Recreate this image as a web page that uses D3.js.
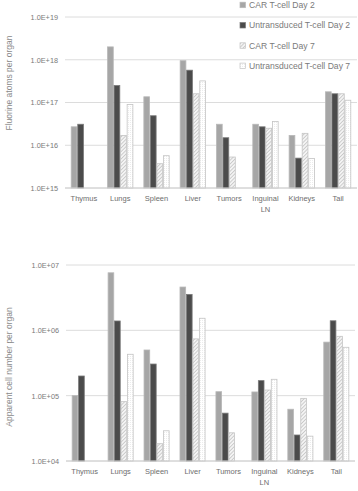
<!DOCTYPE html>
<html><head><meta charset="utf-8">
<script src="https://cdn.jsdelivr.net/npm/d3@7"></script>
<style>body{margin:0;background:#fff}svg{display:block}</style>
</head><body>
<svg id="c" width="358" height="491"></svg>
<script>
const categories = ["Thymus","Lungs","Spleen","Liver","Tumors","Inguinal LN","Kidneys","Tail"];
const seriesNames = ["CAR T-cell Day 2","Untransduced T-cell Day 2","CAR T-cell Day 7","Untransduced T-cell Day 7"];
// Fluorine atoms per organ
const fluorineCarD2   = [2.7e16, 2.0e18, 1.36e17, 9.5e17, 3.1e16, 3.1e16, 1.7e16, 1.78e17];
const fluorineUntrD2  = [3.1e16, 2.5e17, 4.9e16, 5.7e17, 1.5e16, 2.7e16, 5.0e15, 1.6e17];
const fluorineCarD7   = [null,   1.7e16, 3.7e15, 1.6e17, 5.3e15, 2.5e16, 1.9e16, 1.6e17];
const fluorineUntrD7  = [null,   9.0e16, 5.7e15, 3.2e17, null,   3.6e16, 4.9e15, 1.13e17];
const fluorineTicks = [1e15,1e16,1e17,1e18,1e19];
// Apparent cell number per organ
const cellsCarD2  = [1.0e5, 7.6e6, 5.0e5, 4.6e6, 1.15e5, 1.14e5, 6.2e4, 6.6e5];
const cellsUntrD2 = [2.0e5, 1.39e6, 3.05e5, 3.55e6, 5.4e4, 1.7e5, 2.5e4, 1.4e6];
const cellsCarD7  = [null,  8.1e4, 1.84e4, 7.4e5, 2.7e4, 1.22e5, 9.1e4, 8.1e5];
const cellsUntrD7 = [null,  4.3e5, 2.9e4, 1.53e6, null, 1.78e5, 2.4e4, 5.5e5];
const cellTicks = [1e4,1e5,1e6,1e7];

const svg = d3.select("#c");
const defs = svg.append("defs");
const hatch = defs.append("pattern").attr("id","hatch").attr("patternUnits","userSpaceOnUse")
  .attr("width",2.6).attr("height",2.6).attr("patternTransform","rotate(45)");
hatch.append("rect").attr("width",2.6).attr("height",2.6).attr("fill","#f4f4f4");
hatch.append("line").attr("x1",0).attr("y1",0).attr("x2",0).attr("y2",2.6).attr("stroke","#a8a8a8").attr("stroke-width",1);
const dots = defs.append("pattern").attr("id","dots").attr("patternUnits","userSpaceOnUse")
  .attr("width",2).attr("height",2);
dots.append("rect").attr("width",2).attr("height",2).attr("fill","#fff");
dots.append("rect").attr("width",0.8).attr("height",0.8).attr("fill","#e2e2e2");

const fills = ["#a6a6a6","#4b4b4b","url(#hatch)","url(#dots)"];
const strokes = ["#b8b8b8","#7a7a7a","#c4c4c4","#c4c4c4"];
const fmt = v => "1.0E+" + String(Math.round(Math.log10(v))).padStart(2,"0");

function drawChart(opts){
  const g = svg.append("g");
  const y = d3.scaleLog().domain(opts.domain).range([opts.yBottom, opts.yTop]);
  const x = d3.scaleBand().domain(categories).range([opts.x0, opts.x1]).paddingInner(0.28).paddingOuter(0.16);
  const xs = d3.scaleBand().domain(d3.range(4)).range([0, x.bandwidth()]);
  g.selectAll("line.grid").data(opts.ticks).join("line")
    .attr("x1", opts.x0).attr("x2", opts.x1)
    .attr("y1", d => y(d)).attr("y2", d => y(d))
    .attr("stroke", "#dcdcdc").attr("stroke-width", 1);
  const ax = g.append("g").attr("transform", `translate(${opts.x0},0)`)
    .call(d3.axisLeft(y).tickValues(opts.ticks).tickFormat(fmt).tickSize(0).tickPadding(7));
  ax.select(".domain").remove();
  ax.selectAll("text").attr("fill","#7a7a7a").style("font-family","Liberation Sans, Arial, sans-serif").style("font-size","7.3px");
  opts.series.forEach((vals, si) => {
    g.selectAll(null).data(vals.map((v,i)=>({v,c:categories[i]})).filter(d=>d.v!=null)).join("rect")
      .attr("x", d => x(d.c) + xs(si) + 0.4)
      .attr("width", xs.bandwidth() - 0.8)
      .attr("y", d => y(d.v))
      .attr("height", d => opts.yBottom - y(d.v))
      .attr("fill", fills[si]).attr("stroke", strokes[si]).attr("stroke-width", 0.8);
  });
  g.append("line").attr("x1",opts.x0).attr("x2",opts.x1).attr("y1",opts.yBottom).attr("y2",opts.yBottom)
    .attr("stroke","#d0d0d0");
  const lab = g.selectAll("text.cat").data(categories).join("text")
    .attr("x", d => x(d) + x.bandwidth()/2).attr("y", opts.yBottom + 13)
    .attr("text-anchor","middle").attr("fill","#6e6e6e")
    .style("font-family","Liberation Sans, Arial, sans-serif").style("font-size","7.5px");
  lab.each(function(d){
    const parts = d === "Inguinal LN" ? ["Inguinal","LN"] : [d];
    d3.select(this).selectAll("tspan").data(parts).join("tspan")
      .attr("x", x(d) + x.bandwidth()/2).attr("dy",(p,i)=> i ? 11 : 0).text(p=>p);
  });
  g.append("text").attr("transform",`translate(${opts.titleX},${opts.titleY}) rotate(-90)`)
    .attr("text-anchor","middle").attr("fill","#8a8a8a")
    .style("font-family","Liberation Sans, Arial, sans-serif").style("font-size","8.5px")
    .text(opts.title);
}

drawChart({domain:[1e15,1e19], ticks:fluorineTicks, yTop:17, yBottom:188, x0:65, x1:357,
  series:[fluorineCarD2,fluorineUntrD2,fluorineCarD7,fluorineUntrD7],
  title:"Fluorine atoms per organ", titleX:12, titleY:83});
drawChart({domain:[1e4,1e7], ticks:cellTicks, yTop:265, yBottom:461, x0:66, x1:355,
  series:[cellsCarD2,cellsUntrD2,cellsCarD7,cellsUntrD7],
  title:"Apparent cell number per organ", titleX:12, titleY:367});

const lg = svg.append("g");
seriesNames.forEach((n,i)=>{
  const yy = 5 + i*20.3;
  lg.append("rect").attr("x",240).attr("y",yy-2.8).attr("width",5.5).attr("height",5.5)
    .attr("fill",fills[i]).attr("stroke",strokes[i]).attr("stroke-width",0.7);
  lg.append("text").attr("x",249).attr("y",yy).attr("dy","0.35em").attr("fill","#7a7a7a")
    .style("font-family","Liberation Sans, Arial, sans-serif").style("font-size","8.6px").text(n);
});
</script>
</body></html>
